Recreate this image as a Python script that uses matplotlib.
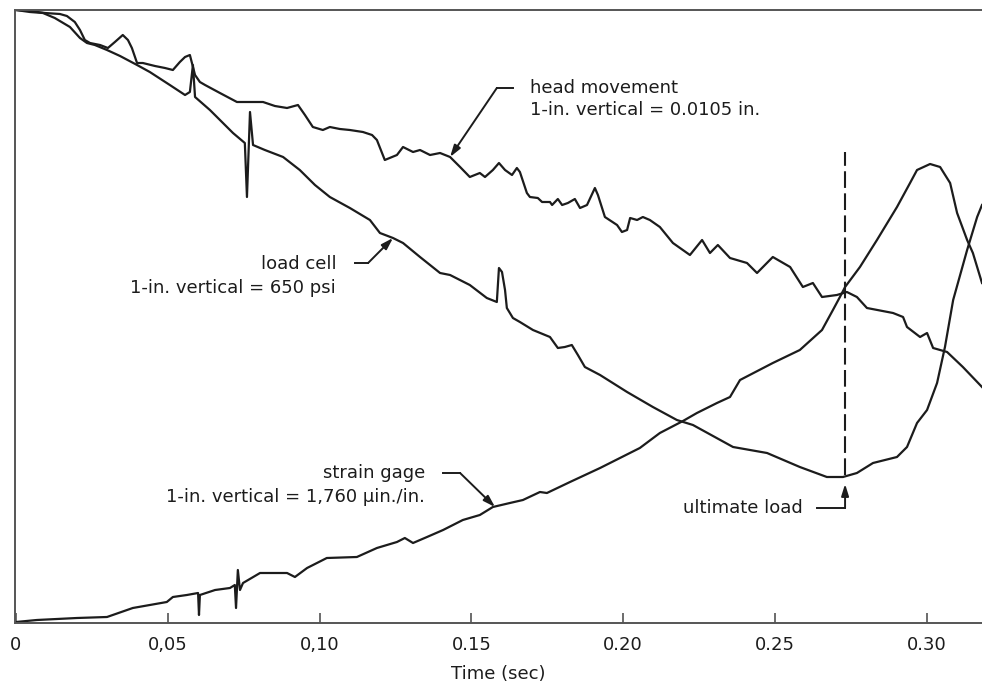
import numpy as np
import matplotlib.pyplot as plt

# Oscillograph traces: time (sec) and pen deflection (in. above base line)
head_t = [0.0000, 0.0046, 0.0096, 0.0145, 0.0168, 0.0194, 0.0211, 0.0227, 0.0244, 0.0277,
          0.0303, 0.0326, 0.0352, 0.0369, 0.0382, 0.0399, 0.0418, 0.0458, 0.0491, 0.0517,
          0.0540, 0.0557, 0.0573, 0.0590, 0.0606, 0.0623, 0.0672, 0.0728, 0.0771, 0.0814,
          0.0853, 0.0893, 0.0929, 0.0952, 0.0978, 0.1011, 0.1034, 0.1067, 0.1100, 0.1143,
          0.1173, 0.1189, 0.1215, 0.1255, 0.1275, 0.1308, 0.1331, 0.1364, 0.1397, 0.1430,
          0.1463, 0.1495, 0.1528, 0.1545, 0.1571, 0.1591, 0.1611, 0.1634, 0.1650, 0.1660,
          0.1683, 0.1693, 0.1719, 0.1733, 0.1759, 0.1766, 0.1785, 0.1799, 0.1818, 0.1841,
          0.1858, 0.1881, 0.1907, 0.1917, 0.1940, 0.1980, 0.1996, 0.2013, 0.2023, 0.2046,
          0.2065, 0.2088, 0.2121, 0.2164, 0.2220, 0.2260, 0.2286, 0.2312, 0.2352, 0.2408,
          0.2441, 0.2493, 0.2550, 0.2592, 0.2625, 0.2655, 0.2704, 0.2737, 0.2770, 0.2803,
          0.2889, 0.2922, 0.2935, 0.2978, 0.3001, 0.3021, 0.3067, 0.3119, 0.3182]
head_y = [6.13, 6.12, 6.10, 6.09, 6.07, 6.01, 5.93, 5.83, 5.80, 5.78,
          5.75, 5.81, 5.88, 5.83, 5.75, 5.60, 5.60, 5.57, 5.55, 5.53,
          5.61, 5.66, 5.68, 5.48, 5.41, 5.38, 5.30, 5.21, 5.21, 5.21,
          5.17, 5.15, 5.18, 5.08, 4.96, 4.93, 4.96, 4.94, 4.93, 4.91,
          4.88, 4.83, 4.63, 4.68, 4.76, 4.71, 4.73, 4.68, 4.70, 4.66,
          4.56, 4.46, 4.50, 4.46, 4.53, 4.60, 4.53, 4.48, 4.55, 4.51,
          4.30, 4.26, 4.25, 4.21, 4.21, 4.18, 4.24, 4.18, 4.20, 4.24,
          4.15, 4.18, 4.35, 4.28, 4.06, 3.98, 3.91, 3.93, 4.05, 4.03,
          4.06, 4.03, 3.96, 3.80, 3.68, 3.83, 3.70, 3.78, 3.65, 3.60,
          3.50, 3.66, 3.56, 3.36, 3.40, 3.26, 3.28, 3.31, 3.26, 3.15,
          3.10, 3.06, 2.96, 2.86, 2.90, 2.75, 2.71, 2.56, 2.36]

load_t = [0.0000, 0.0046, 0.0089, 0.0128, 0.0178, 0.0211, 0.0234, 0.0260, 0.0300, 0.0343,
          0.0399, 0.0441, 0.0507, 0.0557, 0.0573, 0.0583, 0.0590, 0.0639, 0.0715, 0.0754,
          0.0761, 0.0771, 0.0781, 0.0820, 0.0880, 0.0935, 0.0985, 0.1034, 0.1100, 0.1166,
          0.1199, 0.1242, 0.1275, 0.1331, 0.1397, 0.1430, 0.1495, 0.1551, 0.1584, 0.1591,
          0.1601, 0.1611, 0.1617, 0.1637, 0.1660, 0.1703, 0.1759, 0.1785, 0.1808, 0.1831,
          0.1851, 0.1874, 0.1924, 0.2013, 0.2098, 0.2177, 0.2230, 0.2362, 0.2474, 0.2582,
          0.2671, 0.2724, 0.2770, 0.2823, 0.2902, 0.2935, 0.2968, 0.3001, 0.3034, 0.3060,
          0.3087, 0.3133, 0.3166, 0.3182]
load_y = [6.13, 6.11, 6.10, 6.05, 5.96, 5.85, 5.80, 5.78, 5.73, 5.67,
          5.58, 5.51, 5.38, 5.28, 5.31, 5.58, 5.26, 5.13, 4.90, 4.80,
          4.26, 5.11, 4.78, 4.73, 4.66, 4.53, 4.38, 4.26, 4.15, 4.03,
          3.90, 3.85, 3.80, 3.66, 3.50, 3.48, 3.38, 3.25, 3.21, 3.55,
          3.51, 3.33, 3.15, 3.05, 3.01, 2.93, 2.86, 2.75, 2.76, 2.78,
          2.68, 2.56, 2.48, 2.31, 2.16, 2.03, 1.98, 1.76, 1.70, 1.56,
          1.46, 1.46, 1.50, 1.60, 1.66, 1.76, 2.00, 2.13, 2.40, 2.76,
          3.23, 3.73, 4.06, 4.18]

strain_t = [0.0000, 0.0069, 0.0201, 0.0300, 0.0385, 0.0497, 0.0517, 0.0563, 0.0600, 0.0603,
            0.0606, 0.0656, 0.0705, 0.0721, 0.0725, 0.0731, 0.0738, 0.0748, 0.0804, 0.0893,
            0.0919, 0.0959, 0.1024, 0.1123, 0.1189, 0.1255, 0.1281, 0.1308, 0.1354, 0.1407,
            0.1472, 0.1528, 0.1571, 0.1627, 0.1670, 0.1726, 0.1749, 0.1825, 0.1924, 0.2055,
            0.2121, 0.2197, 0.2243, 0.2309, 0.2352, 0.2385, 0.2493, 0.2582, 0.2655, 0.2691,
            0.2714, 0.2731, 0.2780, 0.2836, 0.2902, 0.2945, 0.2968, 0.3011, 0.3044, 0.3077,
            0.3100, 0.3133, 0.3152, 0.3182]
strain_y = [0.01, 0.03, 0.05, 0.06, 0.15, 0.21, 0.26, 0.28, 0.30, 0.08,
            0.28, 0.33, 0.35, 0.38, 0.15, 0.53, 0.33, 0.40, 0.50, 0.50,
            0.46, 0.55, 0.65, 0.66, 0.75, 0.81, 0.85, 0.80, 0.86, 0.93,
            1.03, 1.08, 1.16, 1.20, 1.23, 1.31, 1.30, 1.41, 1.55, 1.75,
            1.90, 2.02, 2.10, 2.20, 2.26, 2.43, 2.60, 2.73, 2.93, 3.13,
            3.26, 3.36, 3.56, 3.83, 4.16, 4.40, 4.53, 4.59, 4.56, 4.40,
            4.10, 3.83, 3.70, 3.40]

t_ultimate = 0.2731
tick_pos = [0, 0.05, 0.10, 0.15, 0.20, 0.25, 0.30]
tick_lab = ['0', '0,05', '0,10', '0.15', '0.20', '0.25', '0.30']

plt.rcParams['font.family'] = ['DejaVu Sans']
ink = '#1c1c1c'
fs = 13

fig = plt.figure(figsize=(9.82, 6.83), dpi=100)
ax = fig.add_axes([15 / 982, 60 / 683, 1 - 15 / 982, 613 / 683])

for t, y in [(head_t, head_y), (load_t, load_y), (strain_t, strain_y)]:
    ax.plot(t, y, color=ink, lw=1.6, solid_joinstyle='round')

# ultimate load marker
ax.plot([t_ultimate, t_ultimate], [1.48, 4.71], color=ink, lw=1.5, dashes=(8, 2.6))

ax.set_xlim(-0.0003, 0.3182)
ax.set_ylim(0, 6.13)
ax.set_xticks(tick_pos)
ax.set_xticklabels(tick_lab)
ax.set_yticks([])
ax.tick_params(axis='x', direction='in', length=7, width=1.1, color='#444',
               labelsize=fs, labelcolor=ink, pad=9)
for side in ['left', 'top', 'bottom']:
    ax.spines[side].set_color('#555')
    ax.spines[side].set_linewidth(1.4)
ax.spines['right'].set_visible(False)
ax.set_xlabel('Time (sec)', fontsize=fs, color=ink, labelpad=8)

arrow = dict(arrowstyle='-|>,head_length=0.7,head_width=0.22', color=ink, lw=1.4,
             shrinkA=0, shrinkB=0)

def leader(x0, x1, y, tip):
    ax.plot([x0, x1], [y, y], color=ink, lw=1.4)
    ax.annotate('', xy=tip, xytext=(x1, y), arrowprops=arrow)

# head movement
ax.text(0.1693, 5.35, 'head movement', fontsize=fs, color=ink, va='center', ha='left')
ax.text(0.1693, 5.13, '1-in. vertical = 0.0105 in.', fontsize=fs, color=ink,
        va='center', ha='left')
leader(0.1637, 0.1584, 5.35, (0.1430, 4.66))

# load cell
ax.text(0.1055, 3.59, 'load cell', fontsize=fs, color=ink, va='center', ha='right')
ax.text(0.1055, 3.35, '1-in. vertical = 650 psi', fontsize=fs, color=ink,
        va='center', ha='right')
leader(0.1117, 0.1160, 3.60, (0.1242, 3.85))

# strain gage
ax.text(0.1347, 1.50, 'strain gage', fontsize=fs, color=ink, va='center', ha='right')
ax.text(0.1347, 1.26, '1-in. vertical = 1,760 \u03bcin./in.', fontsize=fs, color=ink,
        va='center', ha='right')
leader(0.1407, 0.1463, 1.50, (0.1578, 1.16))

# ultimate load
ax.text(0.2592, 1.15, 'ultimate load', fontsize=fs, color=ink, va='center', ha='right')
leader(0.2638, t_ultimate, 1.15, (t_ultimate, 1.39))

fig.savefig('out.png', dpi=100, facecolor='white')
